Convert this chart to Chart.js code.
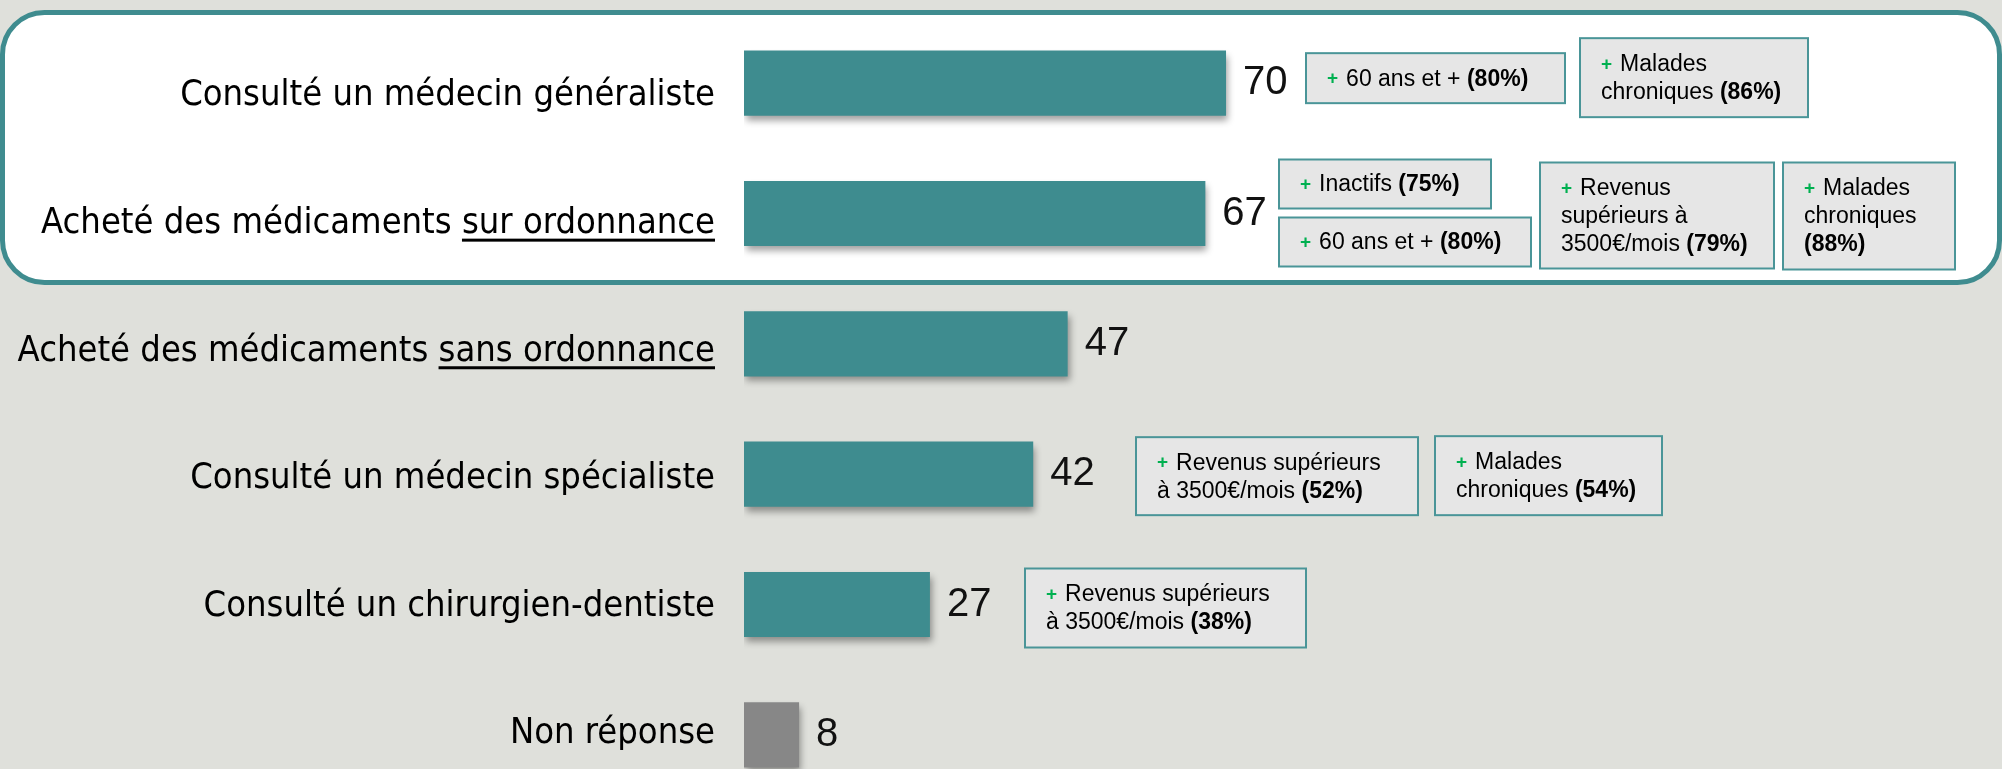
<!DOCTYPE html>
<html>
<head>
<meta charset="utf-8">
<script src="https://cdn.jsdelivr.net/npm/chart.js@4"></script>
<style>
  html, body { margin: 0; padding: 0; background: #dfe0db; overflow: hidden; }
  #chart { position: absolute; left: 0; top: 0; }
</style>
</head>
<body>
<canvas id="chart" width="2002" height="800"></canvas>
<script>
const categories = [
    'Consulté un médecin généraliste',
    'Acheté des médicaments sur ordonnance',
    'Acheté des médicaments sans ordonnance',
    'Consulté un médecin spécialiste',
    'Consulté un chirurgien-dentiste',
    'Non réponse'
];
const values = [70, 67, 47, 42, 27, 8];
const underlined = ['', 'sur ordonnance', 'sans ordonnance', '', '', ''];
const barColors = ['#3e8c8f', '#3e8c8f', '#3e8c8f', '#3e8c8f', '#3e8c8f', '#878787'];

// the small boxes next to the bars: row, text lines, percentage
const noteRows = [0, 0, 1, 1, 1, 1, 3, 3, 4];
const noteLines = [
    ['60 ans et +'],
    ['Malades', 'chroniques'],
    ['Inactifs'],
    ['60 ans et +'],
    ['Revenus', 'supérieurs à', '3500€/mois'],
    ['Malades', 'chroniques', ''],
    ['Revenus supérieurs', 'à 3500€/mois'],
    ['Malades', 'chroniques'],
    ['Revenus supérieurs', 'à 3500€/mois']
];
const notePcts = [80, 86, 75, 80, 79, 88, 52, 54, 38];
// x, offset from row centre, width, height
const noteBoxes = [
    [1306, -30, 259, 50],
    [1580, -45, 228, 79],
    [1279, -54, 212, 49],
    [1279, 4, 252, 49],
    [1540, -51, 234, 106],
    [1783, -51, 172, 107],
    [1136, -37, 282, 78],
    [1435, -38, 227, 79],
    [1025, -36, 281, 79]
];

const labelFont = '"DejaVu Sans Condensed", "DejaVu Sans", sans-serif';
const labelSize = 36;

const backdrop = {
    id: 'backdrop',
    beforeDraw(chart) {
        const ctx = chart.ctx;
        ctx.save();
        ctx.fillStyle = '#dfe0db';
        ctx.fillRect(0, 0, chart.width, chart.height);
        ctx.beginPath();
        ctx.roundRect(2.5, 12.5, 1997, 270, 42);
        ctx.fillStyle = '#ffffff';
        ctx.fill();
        ctx.lineWidth = 5;
        ctx.strokeStyle = '#3f8c8f';
        ctx.stroke();
        ctx.restore();
    }
};

const barShadow = {
    id: 'barShadow',
    beforeDatasetsDraw(chart) {
        const ctx = chart.ctx;
        ctx.save();
        ctx.shadowColor = 'rgba(0,0,0,0.38)';
        ctx.shadowBlur = 7;
        ctx.shadowOffsetX = 2;
        ctx.shadowOffsetY = 5;
    },
    afterDatasetsDraw(chart) {
        chart.ctx.restore();
    }
};

const extras = {
    id: 'extras',
    afterDraw(chart) {
        const ctx = chart.ctx;
        const yScale = chart.scales.y;
        const labelScale = chart.scales.labels;
        const bars = chart.getDatasetMeta(0).data;
        ctx.save();

        // value labels
        ctx.font = '40px "Liberation Sans", Arial, sans-serif';
        ctx.fillStyle = '#111';
        ctx.textBaseline = 'middle';
        ctx.textAlign = 'left';
        bars.forEach((bar, i) => {
            ctx.fillText(String(values[i]), bar.x + 17, bar.y);
        });

        // underline part of the category labels
        ctx.font = labelSize + 'px ' + labelFont;
        ctx.fillStyle = '#000';
        const right = labelScale.right - labelScale.options.ticks.padding;
        underlined.forEach((part, i) => {
            if (!part) return;
            const w = ctx.measureText(part).width;
            const y = labelScale.getPixelForValue(i) + labelScale.options.ticks.labelOffset + 15;
            ctx.fillRect(right - w, y, w, 3);
        });

        // note boxes
        noteRows.forEach((row, k) => {
            const [bx, dy, bw, bh] = noteBoxes[k];
            const by = yScale.getPixelForValue(row) + dy;
            ctx.fillStyle = '#e6e6e6';
            ctx.fillRect(bx, by, bw, bh);
            ctx.lineWidth = 2;
            ctx.strokeStyle = '#4a9598';
            ctx.strokeRect(bx, by, bw, bh);

            const lines = noteLines[k];
            const lh = 28;
            lines.forEach((line, i) => {
                let x = bx + 21;
                const y = by + bh / 2 + (i - (lines.length - 1) / 2) * lh + 1;
                ctx.textBaseline = 'middle';
                if (i === 0) {
                    ctx.font = 'bold 19px "Liberation Sans", Arial, sans-serif';
                    ctx.fillStyle = '#00b050';
                    ctx.fillText('+', x, y);
                    x += ctx.measureText('+').width + 8;
                }
                ctx.font = '23px "Liberation Sans", Arial, sans-serif';
                ctx.fillStyle = '#000';
                ctx.fillText(line, x, y);
                x += ctx.measureText(line).width;
                if (i === lines.length - 1) {
                    if (line) x += ctx.measureText(' ').width;
                    ctx.font = 'bold 23px "Liberation Sans", Arial, sans-serif';
                    ctx.fillText('(' + notePcts[k] + '%)', x, y);
                }
            });
        });
        ctx.restore();
    }
};

new Chart('chart', {
    type: 'bar',
    data: {
        labels: categories,
        datasets: [{
            data: values,
            backgroundColor: barColors,
            categoryPercentage: 1,
            barPercentage: 0.5
        }]
    },
    options: {
        indexAxis: 'y',
        responsive: false,
        animation: false,
        layout: { padding: { top: 18, right: 18.5, left: 0, bottom: 0 } },
        plugins: {
            legend: { display: false },
            tooltip: { enabled: false }
        },
        scales: {
            x: { display: false, min: 0, max: 180 },
            y: { display: false },
            // the category names sit on a slightly tighter pitch than the bars
            labels: {
                type: 'linear',
                position: 'left',
                reverse: true,
                offset: false,
                bounds: 'data',
                min: -0.588,
                max: 5.54,
                grid: { display: false, drawTicks: false, offset: false },
                border: { display: false },
                afterBuildTicks(scale) {
                    scale.ticks = categories.map((c, i) => ({ value: i }));
                },
                afterFit(scale) {
                    scale.width = 744;
                    scale.paddingTop = 0;
                    scale.paddingBottom = 0;
                },
                ticks: {
                    autoSkip: false,
                    padding: 29,
                    labelOffset: 3,
                    color: '#000',
                    font: { family: labelFont, size: labelSize },
                    callback: (v) => categories[v]
                }
            }
        }
    },
    plugins: [backdrop, barShadow, extras]
});
</script>
</body>
</html>
